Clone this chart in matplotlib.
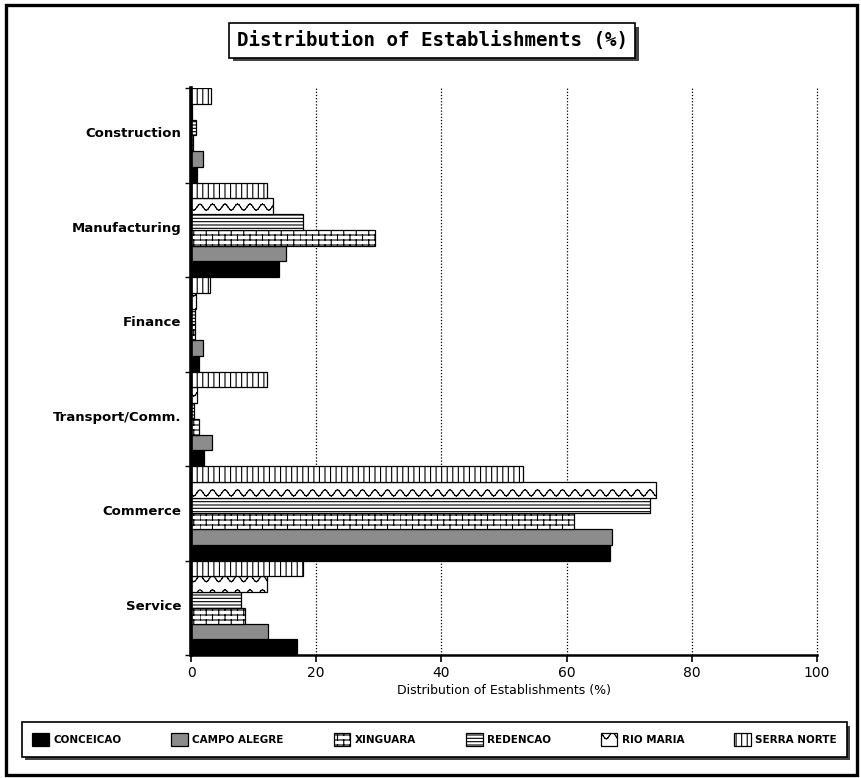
import warnings
import numpy as np
import matplotlib
matplotlib.use("Agg")
import matplotlib.pyplot as plt
import matplotlib.hatch as mhatch
import matplotlib.patheffects as pe
from matplotlib.path import Path
from matplotlib.patches import Rectangle

warnings.filterwarnings("ignore")

# ---------------- data ----------------
categories = ["Construction", "Manufacturing", "Finance",
              "Transport/Comm.", "Commerce", "Service"]
series_names = ["CONCEICAO", "CAMPO ALEGRE", "XINGUARA",
                "REDENCAO", "RIO MARIA", "SERRA NORTE"]
conceicao    = [1.0, 14.1, 1.3, 2.1, 66.9, 17.0]
campo_alegre = [1.9, 15.2, 1.9, 3.4, 67.2, 12.3]
xinguara     = [0.3, 29.4, 0.7, 1.3, 61.2, 8.6]
redencao     = [0.8, 17.9, 0.7, 0.5, 73.3, 8.0]
rio_maria    = [0.2, 13.1, 0.75, 1.0, 74.3, 12.1]
serra_norte  = [3.2, 12.1, 3.1, 12.1, 53.0, 17.9]
xticks = [0, 20, 40, 60, 80, 100]


# ---------------- custom hatches (wave, brick) ----------------
class WaveHatch(mhatch.HatchPatternBase):
    def __init__(self, hatch, density):
        n = hatch.count('~')
        self.rows = 7 if n else 0
        self.periods = 8
        self.pts = self.periods * 8 + 1
        self.num_vertices = self.rows * (self.pts - 1) * 2

    def set_vertices_and_codes(self, vertices, codes):
        x = np.linspace(0, 1, self.pts)
        amp = 0.22 / max(self.rows, 1)
        k = 0
        for i in range(self.rows):
            y0 = (i + 0.5) / self.rows
            y = y0 + amp * np.cos(2 * np.pi * self.periods * x)
            for p in range(self.pts - 1):
                vertices[k] = (x[p], y[p]); codes[k] = Path.MOVETO
                vertices[k + 1] = (x[p + 1], y[p + 1]); codes[k + 1] = Path.LINETO
                k += 2


class BrickHatch(mhatch.HatchPatternBase):
    def __init__(self, hatch, density):
        n = hatch.count('#')
        self.rows = 20 if n else 0
        self.cols = 8
        self.num_vertices = self.rows * 2 + self.rows * self.cols * 2

    def set_vertices_and_codes(self, vertices, codes):
        k = 0
        h = 1.0 / self.rows
        for r in range(self.rows):
            y = r * h
            vertices[k] = (0, y); codes[k] = Path.MOVETO
            vertices[k + 1] = (1, y); codes[k + 1] = Path.LINETO
            k += 2
            off = 0.0 if r % 2 == 0 else 0.5 / self.cols
            for c in range(self.cols):
                x = c / self.cols + off
                vertices[k] = (x, y); codes[k] = Path.MOVETO
                vertices[k + 1] = (x, y + h); codes[k + 1] = Path.LINETO
                k += 2


mhatch._hatch_types.extend([WaveHatch, BrickHatch])
mhatch._validate_hatch_pattern = lambda h: None

plt.rcParams['hatch.linewidth'] = 0.8
plt.rcParams['font.family'] = ['DejaVu Sans']

styles = [
    dict(facecolor='black', hatch=None),
    dict(facecolor='#8c8c8c', hatch=None),
    dict(facecolor='white', hatch='#'),
    dict(facecolor='white', hatch='-----'),
    dict(facecolor='white', hatch='~'),
    dict(facecolor='white', hatch='|||'),
]
values = [conceicao, campo_alegre, xinguara, redencao, rio_maria, serra_norte]

fig = plt.figure(figsize=(8.61, 7.78), dpi=100)
ax = fig.add_axes([191 / 861, 1 - 655 / 778, 626 / 861, (655 - 88) / 778])

n = len(series_names)
h = 1.0 / n
idx = np.arange(len(categories))
handles = []
for j, (name, vals, st) in enumerate(zip(series_names, values, styles)):
    # bottom series (Conceicao) at the bottom of each group
    ypos = idx + (n - 1 - j) * h + h / 2
    b = ax.barh(ypos, vals, height=h, facecolor=st['facecolor'],
                hatch=st['hatch'], edgecolor='black', linewidth=0.9,
                label=name, zorder=3)
    handles.append(b)

ax.set_xlim(0, 100)
ax.set_ylim(len(categories), 0)
ax.set_xticks(xticks)
ax.set_xticklabels([str(t) for t in xticks], fontsize=10)
ax.set_yticks(idx + 0.47)
ax.set_yticklabels(categories, fontsize=9.5, fontweight='bold')
ax.set_yticks(np.arange(len(categories) + 1), minor=True)
ax.tick_params(axis='y', which='major', length=0, pad=7)
ax.tick_params(axis='y', which='minor', length=4, width=1, direction='out')
ax.tick_params(axis='x', length=5, width=1.2, direction='out', pad=3)
ax.set_xlabel("Distribution of Establishments (%)", fontsize=9, labelpad=3)

ax.grid(axis='x', linestyle=(0, (1, 1.5)), color='black', linewidth=0.9, zorder=0)
ax.set_axisbelow(True)
for gl in ax.get_xgridlines():
    gl.set_clip_on(False)
for s in ['top', 'right']:
    ax.spines[s].set_visible(False)
ax.spines['left'].set_linewidth(2.6)
ax.spines['bottom'].set_linewidth(1.8)
ax.spines['left'].set_zorder(5)

# title in a shadowed box
t = fig.text(0.502, 0.948, "Distribution of Establishments (%)",
             ha='center', va='center', fontsize=13.8, fontweight='bold',
             family='DejaVu Sans Mono',
             bbox=dict(boxstyle='square,pad=0.4', facecolor='white',
                       edgecolor='black', linewidth=1.2))
t.get_bbox_patch().set_path_effects([
    pe.SimplePatchShadow(offset=(2.5, -2.5), shadow_rgbFace='#444444', alpha=1),
    pe.Normal()])

# legend
leg = fig.legend(handles=handles, labels=series_names, ncol=6,
                 loc='center', bbox_to_anchor=(22 / 861, 1 - 757 / 778, 825 / 861, 35 / 778),
                 mode='expand', borderaxespad=0, fancybox=False, framealpha=1,
                 edgecolor='black', handlelength=1.6, handleheight=1.6,
                 handletextpad=0.4, borderpad=1.0,
                 prop=dict(size=7.5, weight='bold'))
leg.get_frame().set_linewidth(1.2)
leg.get_frame().set_path_effects([
    pe.SimplePatchShadow(offset=(2.5, -2.5), shadow_rgbFace='#444444', alpha=1),
    pe.Normal()])

# outer frame
fig.patches.append(Rectangle((5.5 / 861, 3 / 778), 851 / 861, 770 / 778,
                             transform=fig.transFigure, fill=False,
                             edgecolor='black', linewidth=2.4))

fig.savefig("out.png", dpi=100)
